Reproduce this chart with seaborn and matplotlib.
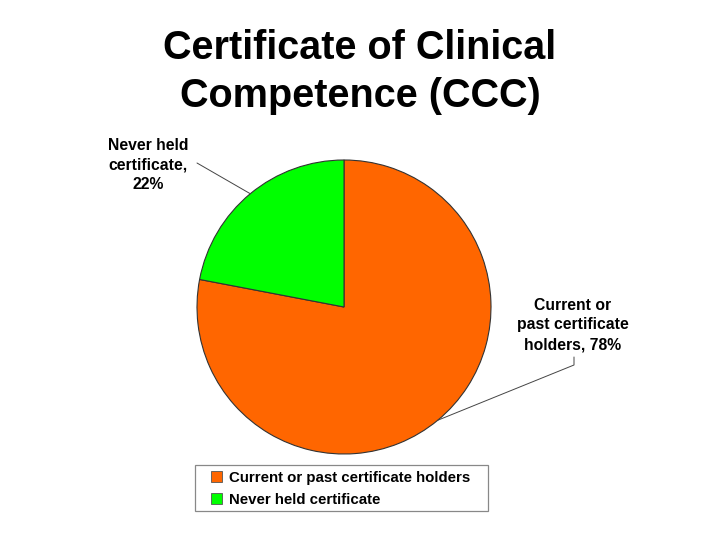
import numpy as np
import matplotlib
matplotlib.use("Agg")
import matplotlib.pyplot as plt
from matplotlib.patches import Rectangle
import seaborn as sns

sns.set_theme(style="white")
plt.rcParams['font.family'] = ['Liberation Sans', 'DejaVu Sans']

# Data
categories = ["Current or past certificate holders", "Never held certificate"]
values = [78, 22]
slice_labels = ["Current or\npast certificate\nholders, 78%", "Never held\ncertificate,\n22%"]
colors = ["#FF6600", "#00FF00"]
title = "Certificate of Clinical\nCompetence (CCC)"

W, H = 720, 540
fig = plt.figure(figsize=(7.2, 5.4), dpi=100)
fig.patch.set_facecolor("white")

cx, cy, r = 344, 307, 147
ax = fig.add_axes([(cx - r) / W, (H - cy - r) / H, 2 * r / W, 2 * r / H])
wedges, _ = ax.pie(values, colors=colors, startangle=90, counterclock=False,
                   wedgeprops=dict(edgecolor="#333333", linewidth=0.8))
ax.set_xlim(-1, 1)
ax.set_ylim(-1, 1)
ax.set_aspect("equal")
ax.axis("off")

def px2d(x, y):
    return ((x - cx) / r, (cy - y) / r)

# Label positions (pixel centres) and leader-line anchor points
label_pos = [(573, 325), (148, 165)]
leader_paths = [[(574, 357), (574, 365)], [(197, 163)]]

for w, lab, (lx, ly), path in zip(wedges, slice_labels, label_pos, leader_paths):
    mid = np.deg2rad((w.theta1 + w.theta2) / 2)
    ex, ey = np.cos(mid), np.sin(mid)
    tx, ty = px2d(lx, ly)
    ax.text(tx, ty, lab, ha="center", va="center", fontsize=11.3,
            fontweight="bold", color="black", linespacing=1.4, clip_on=False)
    pts = [px2d(*p) for p in path]
    xs = [p[0] for p in pts] + [ex]
    ys = [p[1] for p in pts] + [ey]
    ax.plot(xs, ys, color="#444444", lw=0.7, clip_on=False)

fig.text(0.5, 1 - 29 / H, title, ha="center", va="top", fontsize=28.5,
         fontweight="bold", color="black", linespacing=1.32)

# legend frame
fig.patches.append(Rectangle((195 / W, 1 - 511 / H), (488 - 195) / W, (511 - 465) / H,
                             transform=fig.transFigure, facecolor="white",
                             edgecolor="#888888", linewidth=0.9, zorder=1))

leg = fig.legend(wedges, categories, loc="center left",
                 bbox_to_anchor=(211 / W, 1 - 489 / H),
                 frameon=False, labelcolor="black",
                 prop=dict(weight="bold", size=10.85), handlelength=0.75,
                 handleheight=0.75, handletextpad=0.45, labelspacing=0.55,
                 borderpad=0.0, borderaxespad=0)
leg.set_zorder(3)
for h in leg.legend_handles:
    h.set_linewidth(0.6)
    h.set_edgecolor("#555555")

fig.savefig("out.png", dpi=100, facecolor="white")
